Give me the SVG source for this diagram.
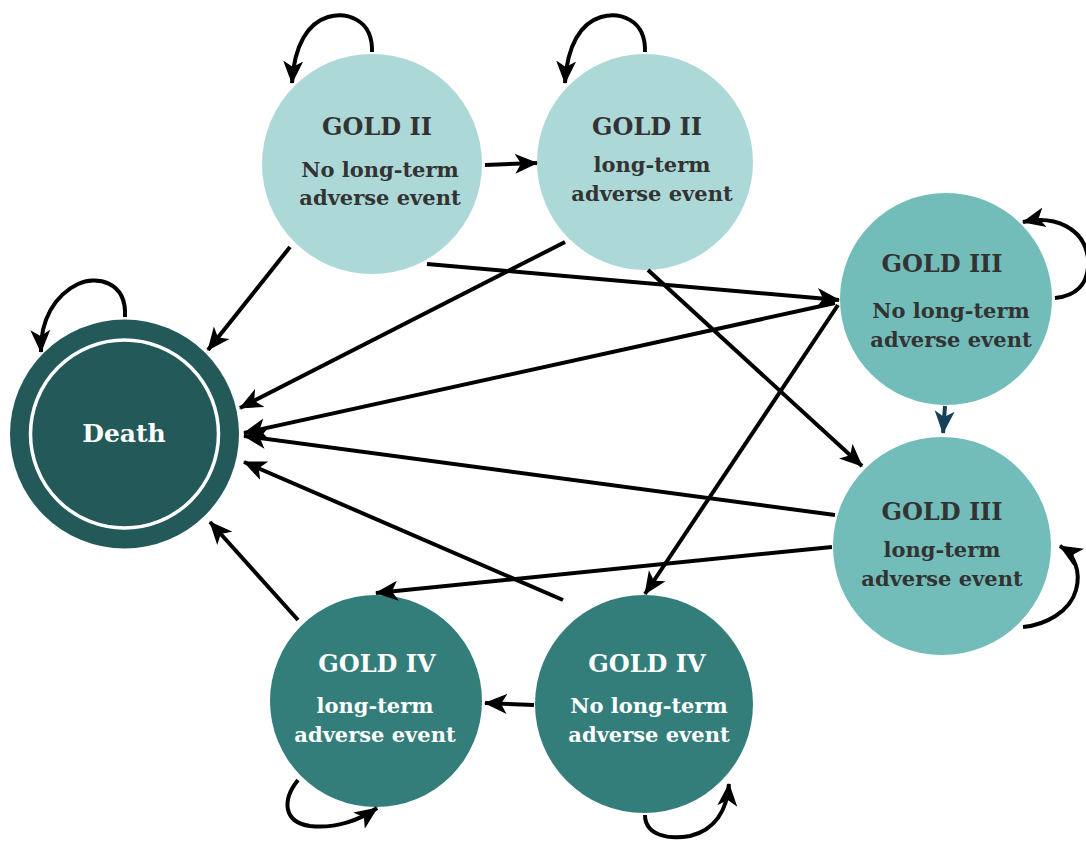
<svg xmlns="http://www.w3.org/2000/svg" width="1086" height="842" viewBox="0 0 1086 842">
<defs>
<marker id="ah" markerUnits="userSpaceOnUse" markerWidth="24" markerHeight="22" viewBox="0 0 24 22" refX="22" refY="11" orient="auto">
<path d="M0,1 L23,11 L0,21 L6,11 z" fill="#000"/>
</marker>
<marker id="ahb" markerUnits="userSpaceOnUse" markerWidth="24" markerHeight="22" viewBox="0 0 24 22" refX="22" refY="11" orient="auto">
<path d="M0,1 L23,11 L0,21 L6,11 z" fill="#17405a"/>
</marker>
<style>
.t{font-family:"DejaVu Serif","Liberation Serif",serif;font-weight:bold;text-anchor:middle}
.h{font-size:24px}
.s{font-size:21px}
.dk{fill:#333333}
.wt{fill:#ffffff}
.c path,.c line{fill:none;stroke:#000;stroke-width:4;marker-end:url(#ah)}
</style>
</defs>
<rect width="1086" height="842" fill="#fff"/>
<g id="death">
<circle cx="124.5" cy="434" r="114.5" fill="#235958"/>
<circle cx="124.5" cy="434" r="94" fill="none" stroke="#fff" stroke-width="3.5"/>
<text class="t wt" style="font-size:25px" x="124" y="442">Death</text>
</g>
<g id="g2no">
<circle cx="372" cy="164" r="110" fill="#acd9d8"/>
<text class="t h dk" x="377" y="135">GOLD II</text>
<text class="t s dk" x="380" y="177">No long-term</text>
<text class="t s dk" x="380" y="205">adverse event</text>
</g>
<g id="g2lt">
<circle cx="645" cy="162" r="108" fill="#acd9d8"/>
<text class="t h dk" x="647" y="135">GOLD II</text>
<text class="t s dk" x="652" y="172">long-term</text>
<text class="t s dk" x="652" y="201">adverse event</text>
</g>
<g id="g3no">
<circle cx="946" cy="299" r="106" fill="#72bdb9"/>
<text class="t h dk" x="942" y="272">GOLD III</text>
<text class="t s dk" x="951" y="318">No long-term</text>
<text class="t s dk" x="951" y="347">adverse event</text>
</g>
<g id="g3lt">
<circle cx="942" cy="546" r="109" fill="#72bdb9"/>
<text class="t h dk" x="942" y="520">GOLD III</text>
<text class="t s dk" x="942" y="557">long-term</text>
<text class="t s dk" x="942" y="586">adverse event</text>
</g>
<g id="g4lt">
<circle cx="376" cy="701" r="106" fill="#337e7b"/>
<text class="t h wt" x="377" y="672">GOLD IV</text>
<text class="t s wt" x="375" y="713">long-term</text>
<text class="t s wt" x="375" y="742">adverse event</text>
</g>
<g id="g4no">
<circle cx="644" cy="704" r="109" fill="#337e7b"/>
<text class="t h wt" x="647" y="672">GOLD IV</text>
<text class="t s wt" x="649" y="713">No long-term</text>
<text class="t s wt" x="649" y="742">adverse event</text>
</g>
<g id="connectors" class="c">
<line x1="485" y1="165" x2="537" y2="163"/>
<line x1="290" y1="247" x2="208" y2="350"/>
<line x1="565" y1="242" x2="240" y2="408"/>
<line x1="427" y1="264" x2="839" y2="300"/>
<line x1="835" y1="303" x2="244" y2="433"/>
<line x1="648" y1="270" x2="862" y2="466"/>
<line x1="838" y1="305" x2="645" y2="594"/>
<line x1="832" y1="547" x2="376" y2="593"/>
<line x1="835" y1="515" x2="244" y2="436"/>
<line x1="534" y1="705" x2="485" y2="703"/>
<line x1="563" y1="600" x2="244" y2="462"/>
<line x1="298" y1="620" x2="210" y2="522"/>
<line x1="945" y1="406" x2="943" y2="433" style="stroke:#17405a;marker-end:url(#ahb)"/>
<path d="M125,317 C127,280 95,276 78,284 C55,295 40,320 41,352"/>
<path d="M372,52 C373,18 345,12 328,17 C308,23 294,45 292,83"/>
<path d="M645,52 C646,18 618,12 601,17 C581,23 567,45 565,83"/>
<path d="M1055,298 C1075,296 1090,285 1088,258 C1084,228 1055,215 1023,222"/>
<path d="M1023,627 C1045,625 1070,612 1076,590 C1081,572 1075,555 1060,546"/>
<path d="M298,780 C282,800 283,822 310,826 C335,829 360,820 377,808"/>
<path d="M645,815 C645,835 668,840 690,836 C715,830 727,810 729,784"/>
</g>
</svg>
